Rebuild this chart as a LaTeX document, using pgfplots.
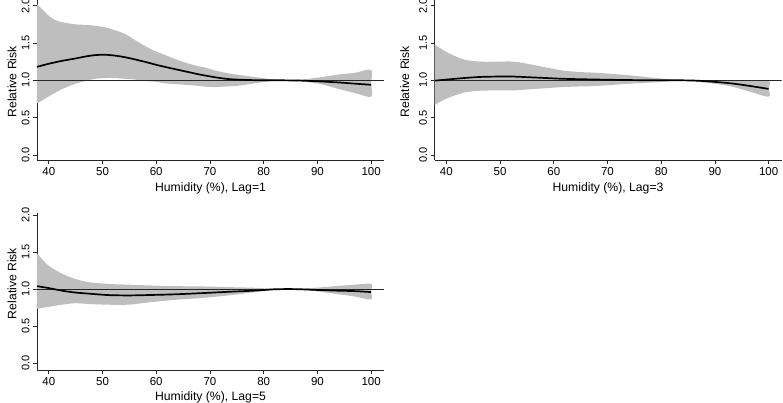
\documentclass[border=0pt]{standalone}
\usepackage{fontspec}
\setmainfont{Liberation Sans}
\usepackage{pgfplots}
\pgfplotsset{compat=1.18}
\definecolor{bandgray}{RGB}{190,190,190}

\pgfplotsset{rrpanel/.style={
  scale only axis, width=347pt,
  xmin=37.8, xmax=102.4,
  axis lines*=left,
  axis line style={-, line width=0.8pt, black!85},
  xtick={40,50,...,100}, ytick={0,0.5,1,1.5,2},
  tick align=outside, major tick length=4pt,
  tick style={black!85, line width=0.8pt},
  /pgf/number format/assume math mode=true,
  yticklabel style={rotate=90, anchor=south,
    /pgf/number format/fixed, /pgf/number format/zerofill,
    /pgf/number format/precision=1,
    font=\fontsize{11}{12}\selectfont},
  xticklabel style={font=\fontsize{11.5}{13}\selectfont},
  label style={font=\fontsize{12.2}{14}\selectfont},
  ylabel={Relative Risk},
}}

\begin{document}
\begin{tikzpicture}
\path[use as bounding box] (0,0) rectangle (783pt,403pt);

% Lag = 1
\begin{axis}[rrpanel, at={(37pt,243pt)}, anchor=south west,
  height=159.6pt, ymin=-0.067, ymax=2.07,
  xlabel={Humidity (\%), Lag=1},
  xlabel style={at={(axis description cs:0.5,-0.18)}, anchor=center},
  ylabel style={at={(axis description cs:-0.072,0.49)}, anchor=center}]
\addplot[fill=bandgray, draw=none, smooth] coordinates {
(37.8,2.02)(39.9,1.87)(41.1,1.81)(42.4,1.78)(44.8,1.75)(47.3,1.74)(48.6,1.73)
(50.4,1.71)(52.3,1.67)(54.2,1.62)(56,1.54)(57.9,1.46)(59.8,1.39)(61.6,1.34)
(63.5,1.285)(65.3,1.24)(67.2,1.20)(69.1,1.17)(71,1.13)(73.7,1.09)(75.6,1.07)
(79.3,1.035)(83,1.0)(86.8,1.01)(90.5,1.04)(94.2,1.08)(97,1.10)(100,1.14)
(100,0.96)
(100,0.78)(97,0.83)(94.2,0.88)(90.5,0.95)(86.8,0.99)(83,1.0)(79.3,0.97)
(75.6,0.93)(73.7,0.92)(71,0.91)(69.1,0.915)(67.2,0.93)(65.3,0.94)(63.5,0.95)
(61.6,0.96)(59.8,0.98)(57.9,0.99)(56,1.01)(54.2,1.02)(52.3,1.03)(50.4,1.03)
(48.6,1.02)(47.3,1.0)(44.8,0.95)(42.4,0.88)(41.1,0.83)(39.9,0.78)(37.8,0.69)
} -- cycle;
\addplot[black!85, line width=0.8pt] coordinates {(37.8,1) (102.4,1)};
\addplot[black, line width=1.7pt, smooth] coordinates {
(37.8,1.18)(39.9,1.22)(42.4,1.26)(44.8,1.29)(47.3,1.325)(49.2,1.34)(51,1.34)
(52.9,1.325)(54.8,1.30)(56.6,1.27)(58.5,1.236)(60.4,1.20)(62.2,1.17)(64.1,1.14)
(66,1.11)(67.9,1.08)(69.8,1.055)(71.9,1.03)(73.7,1.015)(75.6,1.008)(79.3,1.0)
(83,1.0)(86.8,0.996)(90.5,0.985)(94.2,0.97)(97,0.955)(100,0.94)};
\end{axis}

% Lag = 3
\begin{axis}[rrpanel, at={(434.5pt,243pt)}, anchor=south west,
  height=159.6pt, ymin=-0.067, ymax=2.07,
  xlabel={Humidity (\%), Lag=3},
  xlabel style={at={(axis description cs:0.5,-0.18)}, anchor=center},
  ylabel style={at={(axis description cs:-0.086,0.49)}, anchor=center}]
\addplot[fill=bandgray, draw=none, smooth] coordinates {
(37.8,1.48)(40.1,1.376)(43.2,1.28)(46.3,1.25)(49.4,1.25)(52.5,1.25)(55.6,1.215)
(58.7,1.17)(61.8,1.13)(65,1.11)(68.1,1.10)(74.3,1.065)(80.5,1.02)(83.6,1.0)
(86.7,1.0)(89.8,0.995)(92.9,0.99)(96,0.99)(100,0.995)
(100,0.89)
(100,0.78)(96,0.86)(92.9,0.92)(89.8,0.955)(86.7,0.98)(83.6,1.0)(80.5,0.98)
(74.3,0.955)(68.1,0.925)(65,0.918)(61.8,0.91)(58.7,0.895)(55.6,0.88)(52.5,0.865)
(49.4,0.865)(46.3,0.86)(43.2,0.835)(40.1,0.757)(37.8,0.67)
} -- cycle;
\addplot[black!85, line width=0.8pt] coordinates {(37.8,1) (102.4,1)};
\addplot[black, line width=1.7pt, smooth] coordinates {
(37.8,0.995)(40.1,1.01)(43.2,1.03)(46.3,1.045)(49.4,1.05)(52.5,1.05)(55.6,1.04)
(58.7,1.03)(61.8,1.02)(68.1,1.01)(74.3,1.003)(80.5,1.0)(83.6,1.0)(86.7,0.995)
(89.8,0.98)(92.9,0.96)(96,0.93)(100,0.885)};
\end{axis}

% Lag = 5
\begin{axis}[rrpanel, at={(37pt,33pt)}, anchor=south west,
  height=157.3pt, ymin=-0.09, ymax=2.03,
  xlabel={Humidity (\%), Lag=5},
  xlabel style={at={(axis description cs:0.5,-0.172)}, anchor=center},
  ylabel style={at={(axis description cs:-0.072,0.55)}, anchor=center}]
\addplot[fill=bandgray, draw=none, smooth] coordinates {
(37.8,1.48)(39.9,1.32)(42.4,1.21)(44.8,1.14)(47.3,1.095)(51,1.07)(54.8,1.06)
(58.5,1.05)(63.5,1.04)(68.5,1.036)(73.4,1.027)(78.4,1.018)(82.1,1.003)(85.8,1.0)
(89.6,1.018)(93.3,1.04)(97,1.06)(100,1.07)
(100,0.965)
(100,0.86)(97,0.90)(93.3,0.937)(89.6,0.973)(85.8,1.0)(82.1,0.995)(78.4,0.96)
(73.4,0.915)(68.5,0.88)(63.5,0.856)(58.5,0.82)(54.8,0.79)(51,0.79)(47.3,0.80)
(44.8,0.81)(42.4,0.79)(39.9,0.76)(37.8,0.735)
} -- cycle;
\addplot[black!85, line width=0.8pt] coordinates {(37.8,1) (102.4,1)};
\addplot[black, line width=1.7pt, smooth] coordinates {
(37.8,1.04)(39.9,1.015)(42.4,0.98)(44.8,0.955)(47.3,0.94)(51,0.92)(54.8,0.915)
(58.5,0.92)(63.5,0.93)(68.5,0.946)(73.4,0.964)(78.4,0.98)(82.1,0.998)(85.8,1.0)
(89.6,0.99)(93.3,0.98)(97,0.973)(100,0.96)};
\end{axis}
\end{tikzpicture}
\end{document}
